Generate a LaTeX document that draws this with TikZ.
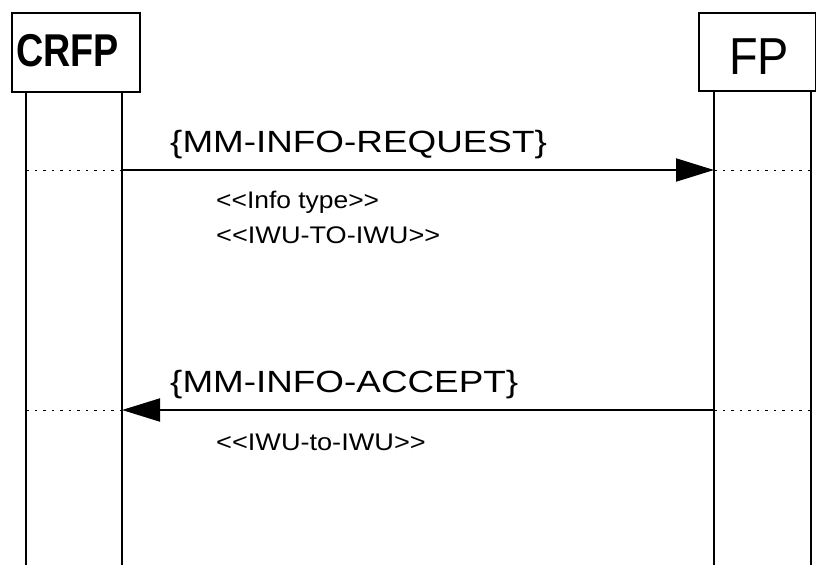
\documentclass[tikz,border=0pt]{standalone}
\usepackage{fontspec}
\setmainfont{Liberation Sans}
\usepackage{graphicx}
\usetikzlibrary{arrows.meta}
\begin{document}
\begin{tikzpicture}[x=1pt,y=-1pt,
  lifebox/.style={draw, line width=2pt, inner sep=0pt, anchor=north west},
  lifeline/.style={line width=2pt},
  msg/.style={line width=2pt, -{Triangle[length=38pt,width=23pt]}},
  guide/.style={line width=1pt, dash pattern=on 2.5pt off 6pt},
  lbl/.style={inner sep=0pt, anchor=base west}]
\useasboundingbox (0,0) rectangle (816,565);
% boxes
\node[lifebox, minimum width=128pt, minimum height=79pt] (crfpbox) at (11,12) {};
\node[lifebox, minimum width=117pt, minimum height=78pt] (fpbox) at (698,12) {};
\node[lbl] (crfp) at (16,66) {\scalebox{0.82}[1]{\fontsize{46}{50}\selectfont\bfseries CRFP}};
\node[lbl] (fp) at (729,74) {\scalebox{0.9}[1]{\fontsize{52}{56}\selectfont FP}};
% lifeline coordinates
\coordinate (c1t) at (26,91);  \coordinate (c1b) at (26,565);
\coordinate (c2t) at (122,91); \coordinate (c2b) at (122,565);
\coordinate (f1t) at (714,90); \coordinate (f1b) at (714,565);
\coordinate (f2t) at (811,90); \coordinate (f2b) at (811,565);
\draw[lifeline] (c1t) -- (c1b);
\draw[lifeline] (c2t) -- (c2b);
\draw[lifeline] (f1t) -- (f1b);
\draw[lifeline] (f2t) -- (f2b);
% message 1
\coordinate (m1a) at (26,170);  \coordinate (m1b) at (122,170);
\coordinate (m1c) at (714,170); \coordinate (m1d) at (811,170);
\draw[guide] (m1a) -- (m1b);
\draw[guide] (m1c) -- (m1d);
\draw[msg] (m1b) -- (m1c);
% message 2
\coordinate (m2a) at (26,410);  \coordinate (m2b) at (122,410);
\coordinate (m2c) at (714,410); \coordinate (m2d) at (811,410);
\draw[guide] (m2a) -- (m2b);
\draw[guide] (m2c) -- (m2d);
\draw[msg] (m2c) -- (m2b);
% labels
\node[lbl] (req) at (170,152) {\scalebox{1.2}[1]{\fontsize{30.7}{36}\selectfont\{MM-INFO-REQUEST\}}};
\node[lbl] (info) at (216,208) {\scalebox{1.1}[1]{\fontsize{24}{28}\selectfont<{}<Info type>{}>}};
\node[lbl] (iwu1) at (216,243) {\scalebox{1.13}[1]{\fontsize{24}{28}\selectfont<{}<IWU-TO-IWU>{}>}};
\node[lbl] (acc) at (170,392) {\scalebox{1.2}[1]{\fontsize{30.7}{36}\selectfont\{MM-INFO-ACCEPT\}}};
\node[lbl] (iwu2) at (216,450) {\scalebox{1.13}[1]{\fontsize{24}{28}\selectfont<{}<IWU-to-IWU>{}>}};
\end{tikzpicture}
\end{document}
